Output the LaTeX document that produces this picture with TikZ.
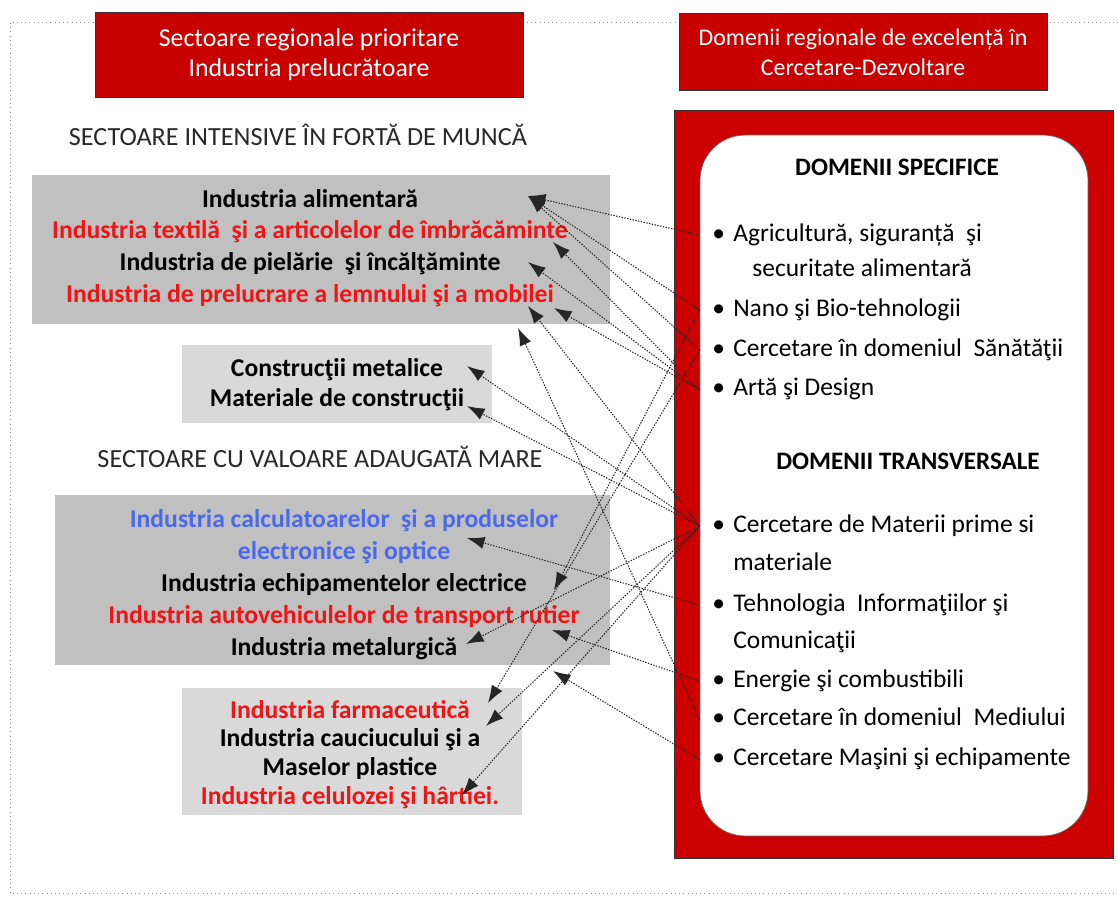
\documentclass[tikz,border=0pt]{standalone}
\usepackage{fontspec}
\setmainfont{Carlito}
\usetikzlibrary{
    positioning,
    arrows.meta,
}
\definecolor{hdred}{RGB}{200,0,0}
\definecolor{boxred}{RGB}{204,0,0}
\definecolor{darkgrey}{RGB}{192,192,192}
\definecolor{lightgrey}{RGB}{217,217,217}
\definecolor{itemred}{RGB}{240,20,20}
\definecolor{itemblue}{RGB}{75,105,235}
\definecolor{headtext}{RGB}{40,40,40}
\tikzset{
    header/.style={rectangle, draw=black!80, fill=hdred, text=white, align=center, inner sep=0pt, font=\fontsize{13.6}{17}\selectfont},
    sectorbox/.style={rectangle, fill=#1, inner sep=0pt},
    sector/.style={text height=10pt, text depth=3pt, inner sep=0pt, font=\fontsize{14.6}{17}\selectfont\bfseries},
    grouptitle/.style={text=headtext, inner sep=0pt, font=\fontsize{14.9}{17}\selectfont},
    domaintitle/.style={inner sep=0pt, font=\fontsize{14.3}{17}\selectfont\bfseries},
    domainitem/.style={anchor=west, text height=10pt, text depth=3pt, inner sep=0pt, font=\fontsize{14.5}{17}\selectfont},
    link/.style={-{Latex[length=10pt,width=7pt]}, line width=0.6pt, dash pattern=on 0.8pt off 0.8pt, black!85},
}
\newcommand{\bul}{\makebox[11.9pt][l]{\textbullet}}

\begin{document}
\begin{tikzpicture}[x=0.02cm, y=-0.02cm]
    \useasboundingbox (0,0) rectangle (1118,900);
    \draw[black!45, dotted] (1118,22) -- (10,22) -- (10,893) -- (1118,893);

    \node[header, minimum width=8.56cm, minimum height=1.7cm, font=\fontsize{14.7}{17.2}\selectfont] (prio) at (309,54.5) {Sectoare regionale prioritare\\Industria prelucrătoare};
    \node[header, minimum width=7.36cm, minimum height=1.54cm] (excel) at (863,52) {Domenii regionale de excelență în\\Cercetare-Dezvoltare};

    \node[grouptitle] (labour) at (298,135) {SECTOARE INTENSIVE ÎN FORTĂ DE MUNCĂ};
    \node[grouptitle] (valadd) at (320,457) {SECTOARE CU VALOARE ADAUGATĂ MARE};

    \node[sectorbox=darkgrey, minimum width=11.56cm, minimum height=2.98cm] (box1) at (321,249.5) {};
    \node[sectorbox=lightgrey, minimum width=6.2cm, minimum height=1.56cm] (box2) at (337,384) {};
    \node[sectorbox=darkgrey, minimum width=11.1cm, minimum height=3.4cm] (box3) at (332.5,580) {};
    \node[sectorbox=lightgrey, minimum width=6.8cm, minimum height=2.54cm] (box4) at (352,751.5) {};

    \node[sector] (alim) at (310,201) {Industria alimentară};
    \node[sector, text=itemred, below=4.6pt of alim] (textil) {Industria textilă \ şi a articolelor de îmbrăcăminte};
    \node[sector, below=4.6pt of textil] (piel) {Industria de pielărie \ şi încălţăminte};
    \node[sector, text=itemred, below=4.6pt of piel] (mobila) {Industria de prelucrare a lemnului şi a mobilei};

    \node[sector] (cmetal) at (337,370) {Construcţii metalice};
    \node[sector, below=4pt of cmetal] (cmat) {Materiale de construcţii};

    \node[sector, text=itemblue] (calc) at (344,521) {Industria calculatoarelor \ şi a produselor};
    \node[sector, text=itemblue, below=4.9pt of calc] (optic) {electronice şi optice};
    \node[sector, below=4.9pt of optic] (echip) {Industria echipamentelor electrice};
    \node[sector, text=itemred, below=4.9pt of echip] (auto) {Industria autovehiculelor de transport rutier};
    \node[sector, below=4.9pt of auto] (metal) {Industria metalurgică};

    \node[sector, text=itemred] (farma) at (350,712) {Industria farmaceutică};
    \node[sector, below=3pt of farma] (cauc) {Industria cauciucului şi a};
    \node[sector, below=3pt of cauc] (plast) {Maselor plastice};
    \node[sector, text=itemred, below=3pt of plast] (celul) {Industria celulozei şi hârtiei.};

    \node[rectangle, draw=black!80, fill=boxred, inner sep=0pt, minimum width=8.78cm, minimum height=14.96cm] (rdbox) at (893.5,484) {};
    \node[rectangle, draw=black!60, fill=white, rounded corners=0.9cm, inner sep=0pt, minimum width=7.76cm, minimum height=14.02cm] (wbox) at (894,485.5) {};

    \node[domaintitle] (specif) at (897,167) {DOMENII SPECIFICE};
    \node[domainitem] (agri) at (712,235) {\bul Agricultură, siguranță \ şi};
    \node[domainitem] (secur) at (752,270) {securitate alimentară};
    \node[domainitem] (nano) at (712,310) {\bul Nano şi Bio-tehnologii};
    \node[domainitem, below=22.7pt of nano.west, anchor=west] (sanat) {\bul Cercetare în domeniul \ Sănătăţii};
    \node[domainitem, below=22.7pt of sanat.west, anchor=west] (arta) {\bul Artă şi Design};

    \node[domaintitle] (transv) at (908,461) {DOMENII TRANSVERSALE};
    \node[domainitem] (mat) at (712,526) {\bul Cercetare de Materii prime si};
    \node[domainitem] (matcont) at (733,564) {materiale};
    \node[domainitem] (tic) at (712,605) {\bul Tehnologia \ Informaţiilor şi};
    \node[domainitem] (ticcont) at (733,642) {Comunicaţii};
    \node[domainitem] (energ) at (712,681) {\bul Energie şi combustibili};
    \node[domainitem, below=22.1pt of energ.west, anchor=west] (mediu) {\bul Cercetare în domeniul \ Mediului};
    \node[domainitem, below=22.7pt of mediu.west, anchor=west] (masini) {\bul Cercetare Maşini şi echipamente};

    % ends of the links on the white box
    \coordinate (s-agri) at (wbox.west |- agri.west);
    \coordinate (s-nano) at (wbox.west |- nano.west);
    \coordinate (s-sanat) at (wbox.west |- sanat.west);
    \coordinate (s-arta) at (wbox.west |- arta.west);
    \coordinate (s-mat) at (wbox.west |- mat.west);
    \coordinate (s-tic) at (wbox.west |- tic.west);
    \coordinate (s-energ) at (wbox.west |- energ.west);
    \coordinate (s-mediu) at (wbox.west |- mediu.west);
    \coordinate (s-masini) at (wbox.west |- masini.west);

    % arrow tips next to the sectors
    \coordinate (t-alim) at (528,196);
    \coordinate (t-textil) at (553,242);
    \coordinate (t-piel) at (528,262);
    \coordinate (t-mob1) at (528,306);
    \coordinate (t-mob2) at (554,308);
    \coordinate (t-mob3) at (518,328);
    \coordinate (t-cmetal) at (467,366);
    \coordinate (t-cmat) at (467,406);
    \coordinate (t-calc) at (467,538);
    \coordinate (t-echip) at (554,590);
    \coordinate (t-auto) at (552,630);
    \coordinate (t-metal) at (466,644);
    \coordinate (t-auto2) at (553,671);
    \coordinate (t-farma) at (488,703);
    \coordinate (t-cauc) at (486,726);
    \coordinate (t-celul) at (462,795);

    \draw[link] (s-agri) -- (t-alim);
    \draw[link] (s-nano) -- (t-alim);
    \draw[link] (s-sanat) -- (t-alim);
    \draw[link] (s-arta) -- (t-textil);
    \draw[link] (s-arta) -- (t-piel);
    \draw[link] (s-arta) -- (t-mob2);
    \draw[link] (s-mat) -- (t-mob1);
    \draw[link] (s-mediu) -- (t-mob3);
    \draw[link] (s-mat) -- (t-cmetal);
    \draw[link] (s-mat) -- (t-cmat);
    \draw[link] (s-tic) -- (t-calc);
    \draw[link] (s-nano) -- (t-echip);
    \draw[link] (s-energ) -- (t-auto);
    \draw[link] (s-mat) -- (t-metal);
    \draw[link] (s-masini) -- (t-auto2);
    \draw[link] (s-sanat) -- (t-farma);
    \draw[link] (s-mat) -- (t-cauc);
    \draw[link] (s-mat) -- (t-celul);

\end{tikzpicture}
\end{document}
